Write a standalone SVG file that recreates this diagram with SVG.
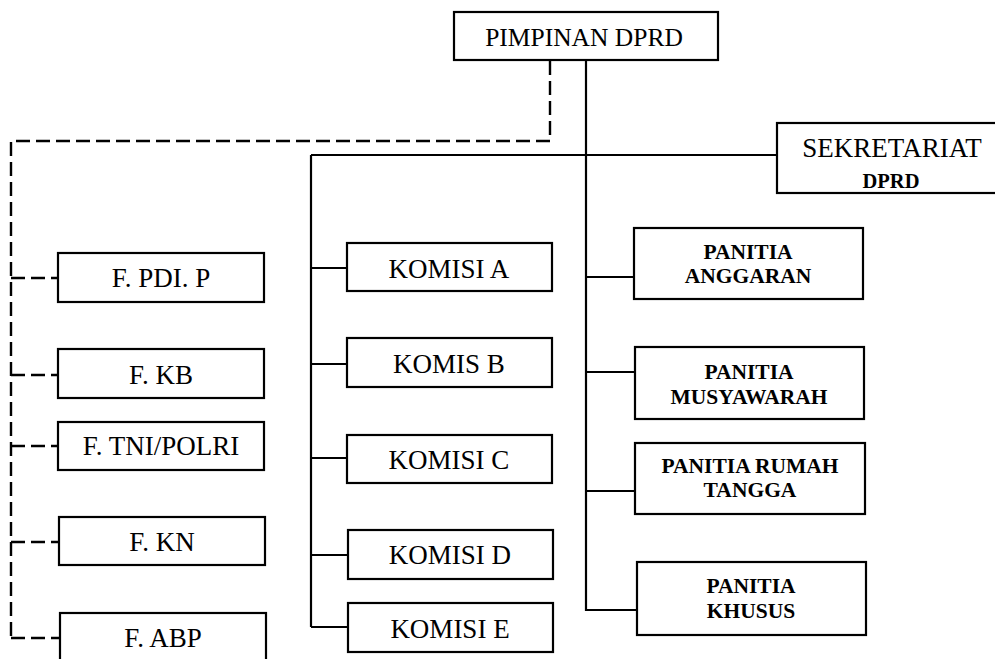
<svg xmlns="http://www.w3.org/2000/svg" width="995" height="659" viewBox="0 0 995 659">
<style>
.box{fill:#fff;stroke:#000;stroke-width:2.2}
.ln{fill:none;stroke:#000;stroke-width:2.2}
.dash{fill:none;stroke:#000;stroke-width:2.4;stroke-dasharray:14 6}
.t{font-family:"Liberation Serif","Times New Roman",serif;font-size:27px;fill:#000;text-anchor:middle}
.b{font-family:"Liberation Serif","Times New Roman",serif;font-size:21.5px;font-weight:bold;fill:#000;text-anchor:middle}
</style>
<rect width="995" height="659" fill="#fff"/>
<g id="connectors">
  <path class="dash" d="M550,61 V141 H11 V638"/>
  <path class="dash" d="M11,278 H58 M11,375 H58 M11,446 H58 M11,542 H58 M11,638 H60"/>
  <path class="ln" d="M586,61 V611"/>
  <path class="ln" d="M311,155 H777"/>
  <path class="ln" d="M311,155 V627"/>
  <path class="ln" d="M311,268 H347 M311,364 H347 M311,458 H347 M311,555 H347 M311,627 H347"/>
  <path class="ln" d="M586,277 H634 M586,372 H634 M586,491 H634 M586,610 H637"/>
</g>
<g id="pimpinan"><rect class="box" x="454" y="12" width="264" height="48"/><text class="t" x="584" y="46" style="font-size:25.5px">PIMPINAN DPRD</text></g>
<g id="sekretariat"><rect class="box" x="777" y="123" width="230" height="70"/><text class="t" x="892" y="157">SEKRETARIAT</text><text class="b" x="891" y="188" style="font-size:20.5px">DPRD</text></g>
<g id="f-pdip"><rect class="box" x="58" y="253" width="206" height="49"/><text class="t" x="161" y="287">F. PDI. P</text></g>
<g id="f-kb"><rect class="box" x="58" y="349" width="206" height="49"/><text class="t" x="161" y="384">F. KB</text></g>
<g id="f-tni"><rect class="box" x="58" y="422" width="206" height="48"/><text class="t" x="161" y="455">F. TNI/POLRI</text></g>
<g id="f-kn"><rect class="box" x="59" y="517" width="206" height="48"/><text class="t" x="162" y="551">F. KN</text></g>
<g id="f-abp"><rect class="box" x="60" y="613" width="206" height="60"/><text class="t" x="163" y="647">F. ABP</text></g>
<g id="komisi-a"><rect class="box" x="347" y="243" width="205" height="48"/><text class="t" x="449" y="278">KOMISI A</text></g>
<g id="komisi-b"><rect class="box" x="347" y="338" width="205" height="49"/><text class="t" x="449" y="373">KOMIS B</text></g>
<g id="komisi-c"><rect class="box" x="347" y="435" width="205" height="48"/><text class="t" x="449" y="469">KOMISI C</text></g>
<g id="komisi-d"><rect class="box" x="348" y="530" width="205" height="49"/><text class="t" x="450" y="564">KOMISI D</text></g>
<g id="komisi-e"><rect class="box" x="348" y="603" width="205" height="49"/><text class="t" x="450" y="638">KOMISI E</text></g>
<g id="panitia-anggaran"><rect class="box" x="634" y="228" width="229" height="71"/><text class="b" x="748" y="259">PANITIA</text><text class="b" x="748" y="283">ANGGARAN</text></g>
<g id="panitia-musyawarah"><rect class="box" x="635" y="347" width="229" height="72"/><text class="b" x="749" y="379">PANITIA</text><text class="b" x="749" y="404">MUSYAWARAH</text></g>
<g id="panitia-rumah-tangga"><rect class="box" x="635" y="443" width="230" height="71"/><text class="b" x="750" y="473">PANITIA RUMAH</text><text class="b" x="750" y="497">TANGGA</text></g>
<g id="panitia-khusus"><rect class="box" x="637" y="562" width="229" height="73"/><text class="b" x="751" y="593">PANITIA</text><text class="b" x="751" y="618">KHUSUS</text></g>
</svg>
